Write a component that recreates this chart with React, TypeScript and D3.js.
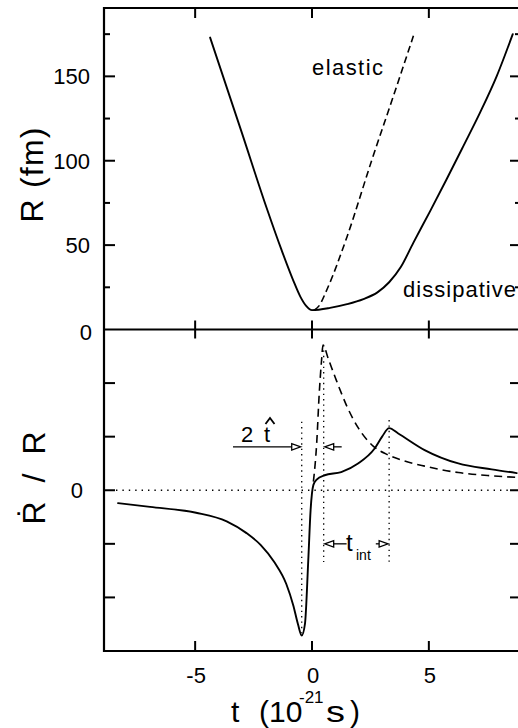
import React from "react";
import * as d3 from "d3";

const W = 518;
const H = 728;

// axis ticks
const tTicks = [-5, 0, 5];
const tTickLabels = ["-5", "0", "5"];
const rMajorTicks = [50, 100, 150];
const rMinorTicks = [25, 75, 125, 175];
const rLabelValues = [50, 100, 150];
const rLabelTexts = ["50", "100", "150"];
const vTicks = [-2, -1, 0, 1, 2];

// top panel: R(t)
const tDiss = [-4.36, -3.0, -1.94, -1.3, -0.8, -0.5, -0.25, 0.0, 0.77, 1.5, 2.2, 2.8, 3.3, 3.8, 4.34, 5.05, 5.76, 6.47, 7.19, 7.9, 8.59];
const rDiss = [173, 116.5, 72, 47, 29, 19.5, 14, 11.5, 12.8, 15, 18, 22, 28, 37, 51.5, 70, 89, 108.5, 128.5, 150, 175];
const tElastic = [0.1, 0.3, 0.65, 1.5, 2.55, 3.5, 4.34];
const rElastic = [11.5, 14, 24, 55, 100, 139, 174];

// bottom panel: Rdot/R (t)
const tRateDiss = [-8.3, -6.93, -4.96, -3.65, -2.8, -2.2, -1.6, -1.1, -0.8, -0.6, -0.44, -0.3, -0.16, -0.06, 0.06, 0.2, 0.54, 1.25, 1.97, 2.68, 3.0, 3.3, 3.69, 4.82, 6.26, 7.69, 8.76];
const vRateDiss = [-0.24, -0.31, -0.42, -0.58, -0.8, -1.02, -1.35, -1.75, -2.15, -2.5, -2.71, -2.49, -1.31, -0.37, 0.1, 0.2, 0.28, 0.34, 0.5, 0.78, 1.0, 1.16, 1.06, 0.75, 0.5, 0.39, 0.32];
const tRateElastic = [0.06, 0.2, 0.31, 0.41, 0.47, 0.7, 1.0, 1.5, 2.0, 2.63, 3.2, 4.0, 4.82, 6.26, 7.69, 8.75];
const vRateElastic = [0.16, 0.87, 1.81, 2.43, 2.71, 2.45, 2.1, 1.56, 1.15, 0.82, 0.67, 0.54, 0.45, 0.33, 0.27, 0.24];

// annotation guides: [t, vFrom, vTo]
const guideT = [-0.44, 0.5, 3.3];
const guideFrom = [1.28, 2.71, 1.31];
const guideTo = [-2.67, -1.34, -1.34];
const hatArrowV = 0.81;
const hatArrowLeftFrom = -3.38;
const hatArrowRightFrom = 1.27;
const intArrowV = -1.0;
const intArrowLeftFrom = 1.48;
const intArrowRightFrom = 2.73;

const FONT = "'Liberation Sans', Arial, sans-serif";

export default function App() {
  const x = d3.scaleLinear().domain([-8.9, 8.9]).range([104, 520]);
  const yTop = d3.scaleLinear().domain([0, 190.5]).range([329.5, 8]);
  const yBot = d3.scaleLinear().domain([-3, 3]).range([651, 329.5]);

  const left = x.range()[0];
  const right = x.range()[1];
  const top = yTop.range()[1];
  const mid = yTop(0);
  const bottom = yBot.range()[0];

  const lineTop = d3
    .line<[number, number]>()
    .x((d) => x(d[0]))
    .y((d) => yTop(d[1]))
    .curve(d3.curveMonotoneX);
  const lineBot = d3
    .line<[number, number]>()
    .x((d) => x(d[0]))
    .y((d) => yBot(d[1]))
    .curve(d3.curveMonotoneX);

  const zip = (a: number[], b: number[]) => a.map((v, i) => [v, b[i]] as [number, number]);

  const arrowHead = (tipX: number, y: number, dir: number) => {
    const L = 9;
    const h = 3.2;
    return `M${tipX},${y} L${tipX - dir * L},${y - h} L${tipX - dir * L},${y + h} Z`;
  };

  const hy = yBot(hatArrowV);
  const iy = yBot(intArrowV);

  return (
    <svg
      width={W}
      height={H}
      style={{ position: "absolute", left: 0, top: 0, background: "#fff" }}
      fontFamily={FONT}
    >
      <rect x={0} y={0} width={W} height={H} fill="#fff" />

      {/* frames */}
      <g stroke="#000" strokeWidth={2.2} fill="none">
        <line x1={left} y1={top} x2={right} y2={top} />
        <line x1={left} y1={mid} x2={right} y2={mid} />
        <line x1={left} y1={bottom} x2={right} y2={bottom} />
        <line x1={left} y1={top - 1} x2={left} y2={bottom + 1} />
        <line x1={right} y1={top - 1} x2={right} y2={bottom + 1} />
      </g>

      {/* ticks */}
      <g stroke="#000" strokeWidth={2}>
        {tTicks.map((t) => (
          <g key={"xt" + t}>
            <line x1={x(t)} x2={x(t)} y1={top} y2={top + 10} />
            <line x1={x(t)} x2={x(t)} y1={mid - 9} y2={mid + 9} />
            <line x1={x(t)} x2={x(t)} y1={bottom} y2={bottom - 10} />
          </g>
        ))}
        {rMajorTicks.map((r) => (
          <g key={"rM" + r}>
            <line x1={left} x2={left + 11} y1={yTop(r)} y2={yTop(r)} />
            <line x1={right} x2={right - 10} y1={yTop(r)} y2={yTop(r)} />
          </g>
        ))}
        {rMinorTicks.map((r) => (
          <g key={"rm" + r}>
            <line x1={left} x2={left + 6} y1={yTop(r)} y2={yTop(r)} />
            <line x1={right} x2={right - 5} y1={yTop(r)} y2={yTop(r)} />
          </g>
        ))}
        {vTicks.map((v) => (
          <g key={"v" + v}>
            <line x1={left} x2={left + 11} y1={yBot(v)} y2={yBot(v)} />
            <line x1={right} x2={right - 10} y1={yBot(v)} y2={yBot(v)} />
          </g>
        ))}
      </g>

      {/* tick labels */}
      <g fontSize={22} fill="#000">
        {rLabelValues.map((r, i) => (
          <text key={"rl" + r} x={90} y={yTop(r) + 8} textAnchor="end">
            {rLabelTexts[i]}
          </text>
        ))}
        <text x={92} y={mid + 10} textAnchor="end">0</text>
        <text x={83} y={yBot(0) + 8} textAnchor="end">0</text>
        {tTicks.map((t, i) => (
          <text key={"tl" + t} x={x(t) + 1} y={683} textAnchor="middle">
            {tTickLabels[i]}
          </text>
        ))}
      </g>

      {/* axis titles */}
      <text
        transform={`translate(43,175) rotate(-90)`}
        textAnchor="middle"
        fontSize={32}
        textLength={95}
        lengthAdjust="spacing"
      >
        R (fm)
      </text>
      <text
        transform={`translate(45,478) rotate(-90)`}
        textAnchor="middle"
        fontSize={32}
        textLength={93}
        lengthAdjust="spacing"
      >
        Ṙ / R
      </text>
      <g fontSize={30}>
        <text x={231} y={722}>t</text>
        <text x={259} y={722}>(10</text>
        <text x={299} y={703} fontSize={17}>-21</text>
        <text x={326} y={722} textLength={19} lengthAdjust="spacingAndGlyphs">s</text>
        <text x={350} y={722}>)</text>
      </g>

      {/* zero dotted line */}
      <line
        x1={left + 12}
        x2={right - 10}
        y1={yBot(0)}
        y2={yBot(0)}
        stroke="#000"
        strokeWidth={1.3}
        strokeDasharray="1.4,5"
      />

      {/* guides */}
      <g stroke="#000" strokeWidth={1.3} strokeDasharray="1.4,4">
        {guideT.map((t, i) => (
          <line key={"g" + i} x1={x(t)} x2={x(t)} y1={yBot(guideFrom[i])} y2={yBot(guideTo[i])} />
        ))}
      </g>

      {/* curves */}
      <g fill="none" stroke="#000" strokeLinejoin="round" strokeLinecap="round">
        <path d={lineTop(zip(tDiss, rDiss)) || ""} strokeWidth={1.9} />
        <path d={lineTop(zip(tElastic, rElastic)) || ""} strokeWidth={1.6} strokeDasharray="7,4" strokeLinecap="butt" />
        <path d={lineBot(zip(tRateDiss, vRateDiss)) || ""} strokeWidth={1.9} />
        <path d={lineBot(zip(tRateElastic, vRateElastic)) || ""} strokeWidth={1.6} strokeDasharray="8,5" strokeLinecap="butt" />
      </g>

      {/* curve labels */}
      <g fontSize={22}>
        <text x={312} y={75} textLength={71} lengthAdjust="spacing">elastic</text>
        <text x={403} y={297} textLength={113} lengthAdjust="spacing">dissipative</text>
      </g>

      {/* arrows */}
      <g stroke="#000" strokeWidth={1.3} fill="#fff">
        <line x1={x(hatArrowLeftFrom)} x2={x(guideT[0]) - 9} y1={hy} y2={hy} />
        <path d={arrowHead(x(guideT[0]) - 1, hy, 1)} />
        <line x1={x(hatArrowRightFrom)} x2={x(guideT[1]) + 9} y1={hy} y2={hy} />
        <path d={arrowHead(x(guideT[1]) + 1, hy, -1)} />
        <line x1={x(intArrowLeftFrom)} x2={x(guideT[1]) + 9} y1={iy} y2={iy} />
        <path d={arrowHead(x(guideT[1]) + 1, iy, -1)} />
        <line x1={x(intArrowRightFrom)} x2={x(guideT[2]) - 9} y1={iy} y2={iy} />
        <path d={arrowHead(x(guideT[2]) - 1, iy, 1)} />
      </g>
      {/* hat accent over t */}
      <path d="M265.5,424 L270,418 L274.5,424" fill="none" stroke="#000" strokeWidth={1.8} />
      <g fontSize={22} fill="#000">
        <text x={241} y={442}>2</text>
        <text x={264} y={442}>t</text>
        <text x={346} y={551} fontSize={24}>t</text>
        <text x={356} y={560} fontSize={14}>int</text>
      </g>
    </svg>
  );
}
